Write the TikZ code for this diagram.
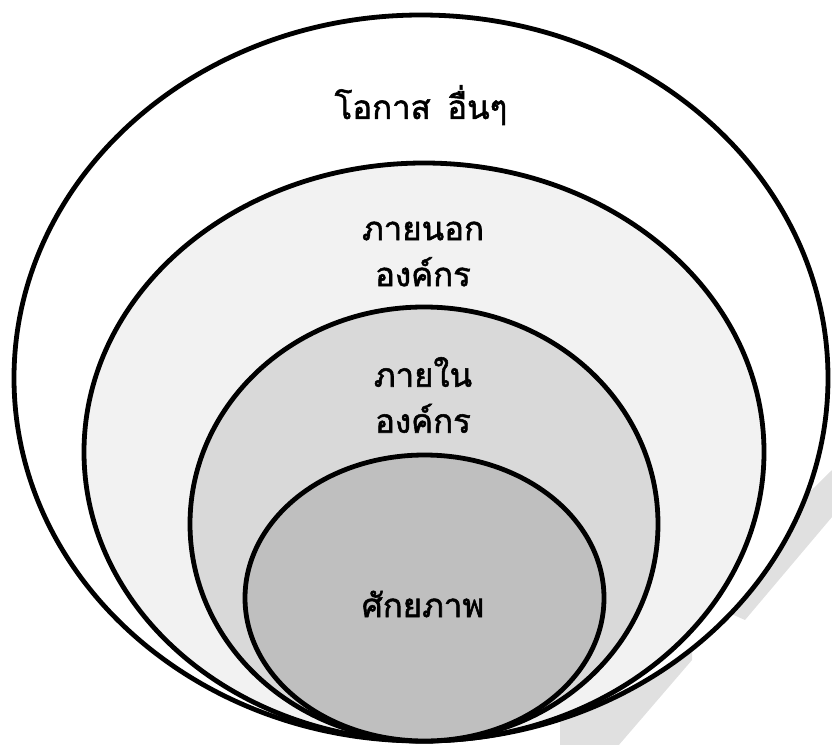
\documentclass[tikz,border=0pt]{standalone}
\usepackage{fontspec}
\newfontfamily\thaifont[Script=Thai,FakeBold=1.6]{Loma}
\definecolor{shadowgray}{HTML}{E0E0E0}
\definecolor{fillA}{HTML}{F2F2F2}
\definecolor{fillB}{HTML}{D9D9D9}
\definecolor{fillC}{HTML}{BFBFBF}
\begin{document}
\begin{tikzpicture}[x=1pt,y=-1pt,
  ring/.style={draw=black,line width=4.8pt},
  lbl/.style={font=\thaifont\fontsize{33}{46}\selectfont,align=center,inner sep=0pt}]
\useasboundingbox (0,0) rectangle (832,744);
\fill[shadowgray] (832,470) -- (832,517) -- (745,620) -- (700,600) -- cycle;
\fill[shadowgray] (692,630) -- (692,660) -- (618,746) -- (560,746) -- (560,700) -- cycle;
\draw[ring,fill=white] (421,378) ellipse [x radius=407, y radius=363];
\draw[ring,fill=fillA] (424,452) ellipse [x radius=340, y radius=289];
\draw[ring,fill=fillB] (424,524) ellipse [x radius=234, y radius=217];
\draw[ring,fill=fillC] (424.5,598) ellipse [x radius=179.5, y radius=143];
\node[lbl] (t1) at (421,105) {โอกาส\hspace{0.5em}อื่นๆ};
\node[lbl] (t2) at (423,254) {ภายนอก\\องค์กร};
\node[lbl] (t3) at (423,395) {ภายใน\\องค์กร};
\node[lbl] (t4) at (423,604) {ศักยภาพ};
\end{tikzpicture}
\end{document}
